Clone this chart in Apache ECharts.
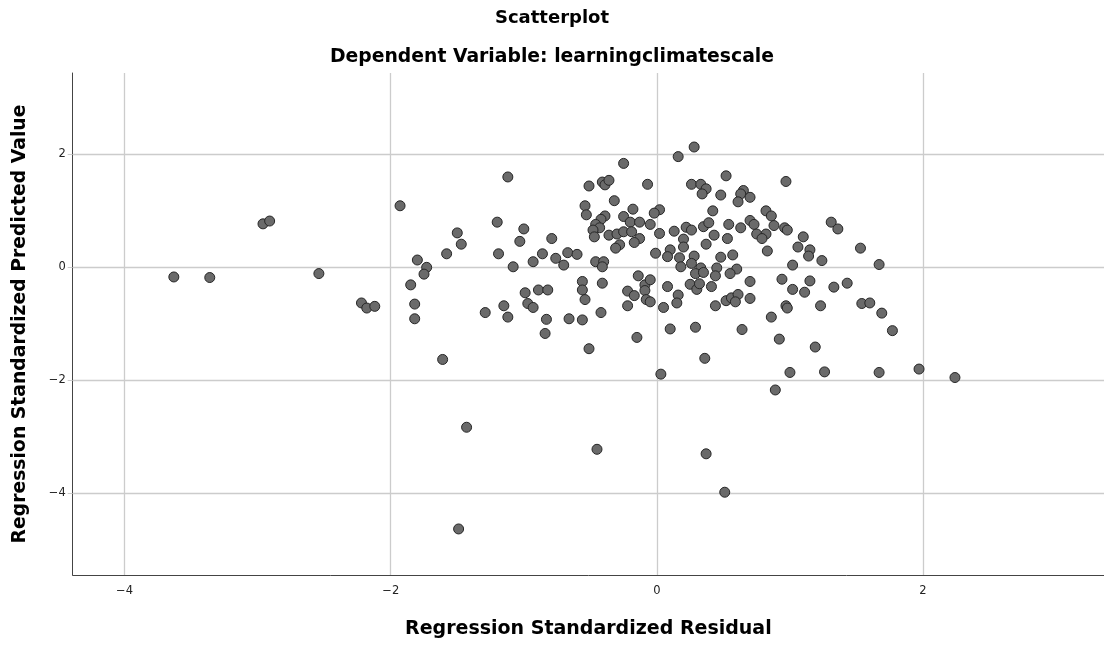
<!DOCTYPE html>
<html>
<head>
<meta charset="utf-8">
<script src="https://cdn.jsdelivr.net/npm/echarts@6/dist/echarts.min.js"></script>
<style>
html,body{margin:0;padding:0;background:#fff;}
#chart{width:1104px;height:646px;}
</style>
</head>
<body>
<div id="chart"></div>
<script>
// Regression standardized residual (x) and standardized predicted value (y)
const residuals = [
 -3.63,-3.36,-2.96,-2.91,-2.54,-2.22,-2.18,-2.12,-1.93,-1.80,-1.85,-1.82,-1.82,
 -1.73,-1.75,-1.61,-1.29,-1.15,-1.12,-1.08,-0.93,-0.99,-0.97,-0.93,-0.89,-0.82,-0.83,-0.84,-0.66,-0.76,-0.70,
 -1.12,-1.20,-1.00,-1.50,-1.47,-1.58,-1.19,-1.03,-0.86,-0.79,-0.67,
 -0.25,0.16,0.28,-0.51,-0.41,-0.39,-0.36,-0.07,0.26,0.33,0.37,0.34,0.52,0.48,
 -0.32,-0.54,-0.53,-0.18,0.02,-0.02,0.42,-0.39,-0.25,-0.42,-0.46,-0.20,-0.13,-0.05,
 -0.43,-0.48,-0.47,-0.36,-0.30,-0.25,-0.19,-0.13,-0.17,-0.28,-0.31,0.02,0.13,0.22,0.26,0.35,0.39,0.54,
 0.20,0.20,0.43,0.53,0.37,-0.60,-0.46,-0.40,-0.41,-0.01,0.10,0.08,0.17,0.28,0.26,0.18,0.33,0.48,0.45,0.57,
 0.97,0.65,0.63,0.70,0.61,0.82,0.86,0.70,0.73,0.63,0.88,0.96,0.98,1.31,1.36,0.75,0.82,0.79,1.10,1.06,1.15,1.14,0.83,1.24,1.53,1.67,1.02,0.60,
 1.69,1.77,1.67,1.97,2.24,
 -0.56,-0.56,-0.54,-0.41,-0.42,-0.56,-0.22,-0.17,-0.14,-0.09,-0.05,-0.09,-0.08,-0.05,-0.22,-0.15,-0.51,
 0.08,0.05,0.16,0.15,0.10,0.03,0.29,0.35,0.25,0.30,0.32,0.41,0.44,0.55,0.44,0.52,0.56,0.29,0.36,
 0.70,0.61,0.59,0.70,0.94,1.02,1.15,1.11,1.33,1.43,0.97,0.98,1.23,0.86,1.54,1.60,0.64,0.92,1.19,1.00,1.26,0.89,
 -1.43,-0.45,0.37,0.51,-1.49
];
const predicted = [
 -0.18,-0.19,0.76,0.81,-0.12,-0.64,-0.73,-0.70,1.08,0.12,-0.32,-0.66,-0.92,
 -0.01,-0.13,-1.64,-0.81,-0.69,-0.89,0.00,0.09,-0.46,-0.65,-0.72,-0.41,-0.41,-0.93,-1.18,-0.92,0.15,0.03,
 1.59,0.79,0.67,0.60,0.40,0.23,0.23,0.45,0.23,0.50,0.25,
 1.83,1.95,2.12,1.43,1.50,1.45,1.53,1.46,1.46,1.46,1.38,1.29,1.61,1.27,
 1.17,1.08,0.92,1.02,1.01,0.95,0.99,0.90,0.89,0.84,0.75,0.79,0.79,0.75,
 0.69,0.65,0.53,0.56,0.58,0.62,0.62,0.50,0.43,0.39,0.33,0.59,0.63,0.70,0.65,0.71,0.78,0.75,
 0.49,0.35,0.56,0.50,0.40,0.22,0.09,0.09,0.00,0.24,0.30,0.18,0.16,0.19,0.06,0.00,-0.02,0.17,-0.02,0.21,
 1.51,1.35,1.29,1.23,1.15,0.99,0.90,0.82,0.75,0.69,0.73,0.69,0.65,0.79,0.67,0.58,0.58,0.50,0.53,0.35,0.30,0.19,0.28,0.11,0.33,0.04,0.03,-0.04,
 -0.82,-1.13,-1.87,-1.81,-1.96,
 -0.26,-0.41,-0.58,-0.29,-0.81,-0.94,-0.43,-0.51,-0.16,-0.32,-0.23,-0.42,-0.58,-0.62,-0.69,-1.25,-1.45,
 -0.35,-0.72,-0.50,-0.64,-1.10,-1.90,-0.12,-0.10,-0.31,-0.40,-0.30,-0.35,-0.16,-0.12,-0.69,-0.60,-0.55,-1.07,-1.62,
 -0.26,-0.49,-0.62,-0.56,-0.22,-0.40,-0.25,-0.45,-0.36,-0.29,-0.69,-0.73,-0.69,-0.89,-0.65,-0.64,-1.11,-1.28,-1.42,-1.87,-1.86,-2.18,
 -2.84,-3.23,-3.31,-3.99,-4.64
];
const xTicks = [-4, -2, 0, 2];
const yTicks = [-4, -2, 0, 2];
const titleText = 'Scatterplot';
const subtitleText = 'Dependent Variable: learningclimatescale';
const xName = 'Regression Standardized Residual';
const yName = 'Regression Standardized Predicted Value';

const points = residuals.map((r, i) => [r, predicted[i]]);
const FONT = 'DejaVu Sans';

const chart = echarts.init(document.getElementById('chart'));
chart.setOption({
  backgroundColor: '#ffffff',
  animation: false,
  title: [
    { text: titleText, left: 'center', top: 4,
      textStyle: { fontFamily: FONT, fontWeight: 'bold', fontSize: 18, color: '#000' } },
    { text: subtitleText, left: 'center', top: 43,
      textStyle: { fontFamily: FONT, fontWeight: 'bold', fontSize: 18.8, color: '#000' } }
  ],
  grid: { left: 72.7, top: 73, right: 0, bottom: 71, containLabel: false },
  xAxis: {
    type: 'value', min: -4.39, max: 3.36,
    name: xName, nameLocation: 'middle', nameGap: 45,
    nameTextStyle: { fontFamily: FONT, fontWeight: 'bold', fontSize: 19, color: '#000' },
    axisLine: { show: true, onZero: false, lineStyle: { color: '#444', width: 1 } },
    axisTick: { show: false, customValues: xTicks },
    axisLabel: { customValues: xTicks, fontFamily: FONT, fontSize: 11.5, color: '#222', margin: 10,
      formatter: v => (v < 0 ? '\u2212' + Math.abs(v) : String(v)) },
    splitLine: { show: true, lineStyle: { color: '#cccccc', width: 1.3 } }
  },
  yAxis: {
    type: 'value', min: -5.455, max: 3.43,
    name: yName, nameLocation: 'middle', nameGap: 43, nameRotate: 90,
    nameTextStyle: { fontFamily: FONT, fontWeight: 'bold', fontSize: 18.8, color: '#000' },
    axisLine: { show: true, onZero: false, lineStyle: { color: '#444', width: 1 } },
    axisTick: { show: true, customValues: yTicks, length: 5, lineStyle: { color: '#cccccc' } },
    axisLabel: { customValues: yTicks, fontFamily: FONT, fontSize: 11.5, color: '#222', margin: 7,
      formatter: v => (v < 0 ? '\u2212' + Math.abs(v) : String(v)) },
    splitLine: { show: true, lineStyle: { color: '#cccccc', width: 1.3 } }
  },
  series: [{
    type: 'scatter',
    data: points,
    symbol: 'circle',
    symbolSize: 10,
    itemStyle: { color: '#6a6a6a', borderColor: '#262626', borderWidth: 1, opacity: 1 },
    emphasis: { disabled: true }
  }]
});
</script>
</body>
</html>
